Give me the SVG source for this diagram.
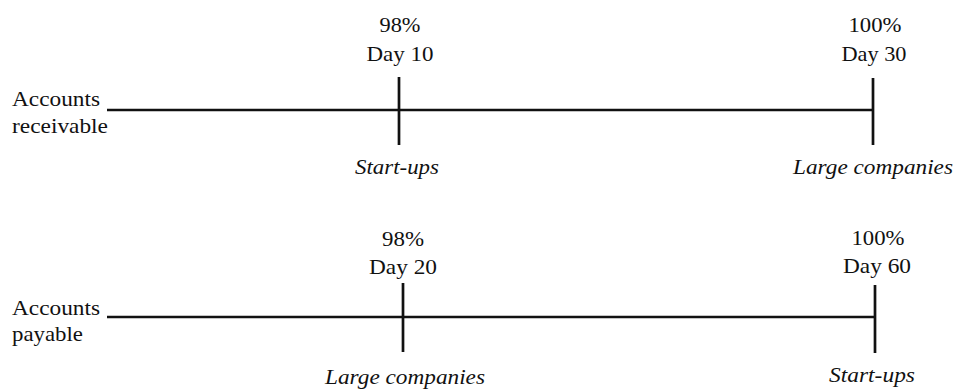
<svg xmlns="http://www.w3.org/2000/svg" width="957" height="390" viewBox="0 0 957 390">
<style>
text{font-family:'Liberation Serif','DejaVu Serif',serif;font-size:21px;fill:#111}
.c{text-anchor:middle}
.i{font-style:italic}
.ln{stroke:#111;stroke-width:2.7;fill:none}
</style>
<rect width="957" height="390" fill="#fff"/>
<g id="connectors">
<line class="ln" x1="107" y1="110" x2="873" y2="110"/>
<line class="ln" x1="107" y1="317" x2="875" y2="317"/>
</g>
<g id="ar-label" font-family="Liberation Serif, DejaVu Serif, serif">
<text x="12" y="106" textLength="88" lengthAdjust="spacingAndGlyphs">Accounts</text>
<text x="12" y="133" textLength="96" lengthAdjust="spacingAndGlyphs">receivable</text>
</g>
<g id="ar-day10">
<line class="ln" x1="399" y1="77" x2="399" y2="145"/>
<text class="c" x="400" y="32" textLength="41" lengthAdjust="spacingAndGlyphs">98%</text>
<text class="c" x="400" y="61" textLength="67" lengthAdjust="spacingAndGlyphs">Day 10</text>
<text class="c i" x="397" y="174" textLength="84" lengthAdjust="spacingAndGlyphs">Start-ups</text>
</g>
<g id="ar-day30">
<line class="ln" x1="873" y1="78" x2="873" y2="145"/>
<text class="c" x="875" y="32" textLength="53" lengthAdjust="spacingAndGlyphs">100%</text>
<text class="c" x="874" y="61" textLength="65" lengthAdjust="spacingAndGlyphs">Day 30</text>
<text class="c i" x="873" y="174" textLength="160" lengthAdjust="spacingAndGlyphs">Large companies</text>
</g>
<g id="ap-label">
<text x="12" y="315" textLength="88" lengthAdjust="spacingAndGlyphs">Accounts</text>
<text x="12" y="341" textLength="71" lengthAdjust="spacingAndGlyphs">payable</text>
</g>
<g id="ap-day20">
<line class="ln" x1="403" y1="283" x2="403" y2="352"/>
<text class="c" x="403" y="246" textLength="42" lengthAdjust="spacingAndGlyphs">98%</text>
<text class="c" x="403" y="274" textLength="68" lengthAdjust="spacingAndGlyphs">Day 20</text>
<text class="c i" x="405" y="384" textLength="160" lengthAdjust="spacingAndGlyphs">Large companies</text>
</g>
<g id="ap-day60">
<line class="ln" x1="875" y1="285" x2="875" y2="353"/>
<text class="c" x="878" y="245" textLength="53" lengthAdjust="spacingAndGlyphs">100%</text>
<text class="c" x="877" y="273" textLength="68" lengthAdjust="spacingAndGlyphs">Day 60</text>
<text class="c i" x="872" y="382" textLength="86" lengthAdjust="spacingAndGlyphs">Start-ups</text>
</g>
</svg>
